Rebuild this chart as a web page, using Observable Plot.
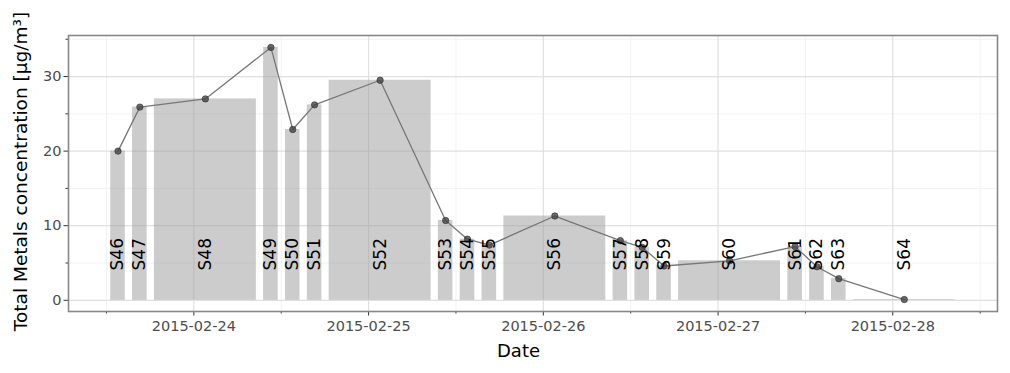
<!DOCTYPE html>
<html>
<head>
<meta charset="utf-8">
<script src="https://cdn.jsdelivr.net/npm/d3@7"></script>
<script src="https://cdn.jsdelivr.net/npm/@observablehq/plot@0.6"></script>
<style>
  html, body { margin: 0; padding: 0; background: #fff; }
  svg { font-family: "DejaVu Sans", sans-serif; }
</style>
</head>
<body>
<div id="chart"></div>
<script>
// Sample names
const samples = ["S46","S47","S48","S49","S50","S51","S52","S53","S54","S55",
                 "S56","S57","S58","S59","S60","S61","S62","S63","S64"];
// Sampling start and end times (UTC)
const starts = ["2015-02-23T12:35","2015-02-23T15:35","2015-02-23T18:35","2015-02-24T09:35",
                "2015-02-24T12:35","2015-02-24T15:35","2015-02-24T18:35","2015-02-25T09:35",
                "2015-02-25T12:35","2015-02-25T15:35","2015-02-25T18:35","2015-02-26T09:35",
                "2015-02-26T12:35","2015-02-26T15:35","2015-02-26T18:35","2015-02-27T09:35",
                "2015-02-27T12:35","2015-02-27T15:35","2015-02-27T18:35"];
const ends   = ["2015-02-23T14:35","2015-02-23T17:35","2015-02-24T08:35","2015-02-24T11:35",
                "2015-02-24T14:35","2015-02-24T17:35","2015-02-25T08:35","2015-02-25T11:35",
                "2015-02-25T14:35","2015-02-25T17:35","2015-02-26T08:35","2015-02-26T11:35",
                "2015-02-26T14:35","2015-02-26T17:35","2015-02-27T08:35","2015-02-27T11:35",
                "2015-02-27T14:35","2015-02-27T17:35","2015-02-28T08:35"];
// Total metals concentration [µg/m³]
const values = [20.0, 25.9, 27.0, 33.9, 22.9, 26.2, 29.5, 10.7, 8.2, 7.4,
                11.3, 8.0, 7.1, 4.6, 5.3, 7.2, 4.5, 2.9, 0.1];
// Axis ticks
const xTickLabels = ["2015-02-24","2015-02-25","2015-02-26","2015-02-27","2015-02-28"];
const xMinorTicks = ["2015-02-23T12:00","2015-02-24T12:00","2015-02-25T12:00","2015-02-26T12:00","2015-02-27T12:00","2015-02-28T12:00"];
const yTicks = [0, 10, 20, 30];
const yMinorTicks = [5, 15, 25, 35];

const parse = s => new Date(s + (s.length > 10 ? ":00Z" : "T00:00:00Z"));
const data = samples.map((name, i) => {
  const s = parse(starts[i]), e = parse(ends[i]);
  return {name, start: s, end: e, mid: new Date((+s + +e) / 2), value: values[i]};
});
const xMajor = xTickLabels.map(parse);
const xMinor = xMinorTicks.map(parse);

// ggplot-style 5% expansion on x
const t0 = d3.min(data, d => +d.start), t1 = d3.max(data, d => +d.end);
const pad = (t1 - t0) * 0.05;
const xDomain = [new Date(t0 - pad), new Date(t1 + pad)];
const yDomain = [-1.5, 35.5];

const chart = Plot.plot({
  width: 1010,
  height: 373,
  marginLeft: 68,
  marginRight: 13,
  marginTop: 35,
  marginBottom: 62,
  style: {fontFamily: "DejaVu Sans, sans-serif", background: "#fff"},
  x: {type: "utc", domain: xDomain},
  y: {domain: yDomain},
  marks: [
    Plot.gridX(xMinor, {stroke: "#f2f2f2", strokeOpacity: 1, strokeWidth: 1}),
    Plot.gridY(yMinorTicks, {stroke: "#f2f2f2", strokeOpacity: 1, strokeWidth: 1}),
    Plot.gridX(xMajor, {stroke: "#e0e0e0", strokeOpacity: 1, strokeWidth: 1.2}),
    Plot.gridY(yTicks, {stroke: "#e0e0e0", strokeOpacity: 1, strokeWidth: 1.2}),
    Plot.rectY(data, {x1: "start", x2: "end", y1: 0, y2: "value", fill: "#999", fillOpacity: 0.5, inset: 0}),
    Plot.line(data, {x: "mid", y: "value", stroke: "#777", strokeWidth: 1.3}),
    Plot.dot(data, {x: "mid", y: "value", r: 3.2, fill: "#444", fillOpacity: 0.8, stroke: "#333", strokeOpacity: 0.8, strokeWidth: 0.8}),
    Plot.text(data, {x: "mid", y: 4, text: "name", rotate: -90, textAnchor: "start", lineAnchor: "middle",
                     fontSize: 17, fill: "#000"}),
    Plot.axisX(xMajor, {tickSize: 4.5, tickPadding: 5, tickFormat: d3.utcFormat("%Y-%m-%d"),
                        fontSize: 14.5, color: "#4d4d4d", stroke: "#333", label: null}),
    Plot.axisX(xMinor, {tickSize: 2.5, tickFormat: () => "", stroke: "#333", label: null}),
    Plot.axisY(yTicks, {tickSize: 4.5, tickPadding: 2.5, fontSize: 14.5, color: "#4d4d4d", stroke: "#333", label: null}),
    Plot.axisY(yMinorTicks, {tickSize: 2.5, tickFormat: () => "", stroke: "#333", label: null}),
    Plot.frame({stroke: "#888", strokeWidth: 1.6}),
    Plot.text(["Date"], {frameAnchor: "bottom", textAnchor: "middle", lineAnchor: "middle", dx: -14.5, dy: 40, fontSize: 18, fill: "#000"}),
    Plot.text(["Total Metals concentration [μg/m³]"], {frameAnchor: "left", textAnchor: "middle", lineAnchor: "middle", rotate: -90, dx: -47, dy: -2, fontSize: 18.5, fill: "#000"})
  ]
});
document.getElementById("chart").appendChild(chart);
</script>
</body>
</html>
